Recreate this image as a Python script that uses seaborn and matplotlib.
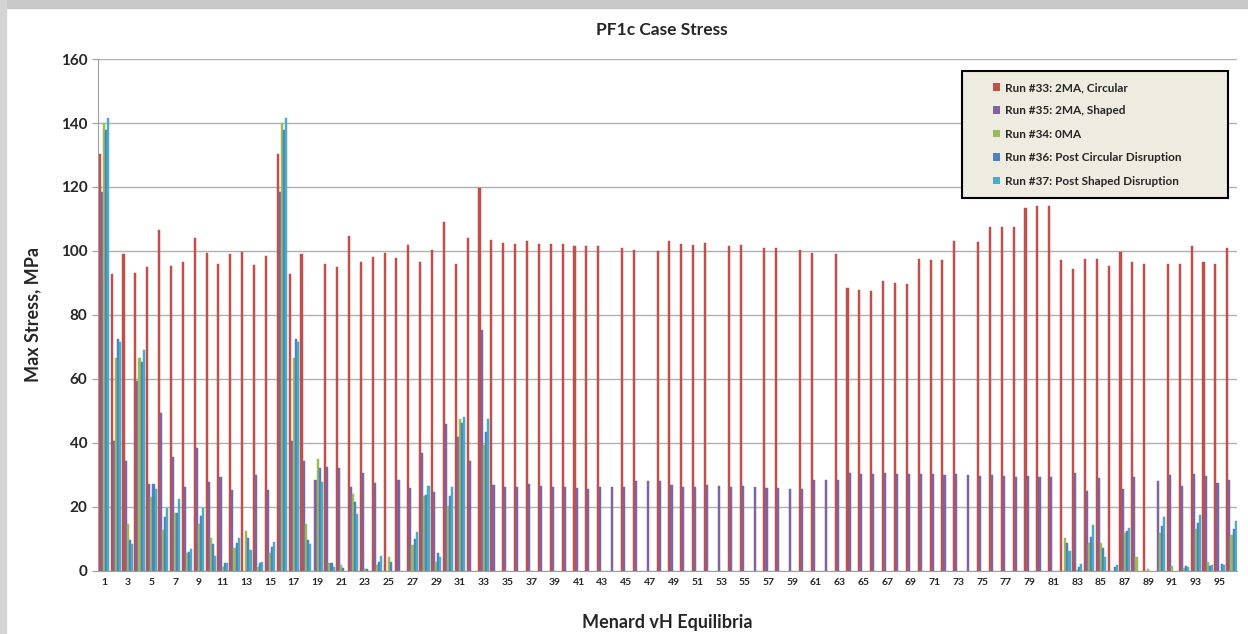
import numpy as np
import pandas as pd
import matplotlib
matplotlib.use('Agg')
import matplotlib.pyplot as plt
import seaborn as sns
from matplotlib.patches import Rectangle, Patch

sns.set_style("white")
plt.rcParams['font.family'] = ['Lato', 'DejaVu Sans']
plt.rcParams['font.weight'] = 'bold'

# Equilibrium numbers 1..96
equilibria = list(range(1, 97))

run_labels = ['Run #33: 2MA, Circular', 'Run #35: 2MA, Shaped', 'Run #34: 0MA',
              'Run #36: Post Circular Disruption', 'Run #37: Post Shaped Disruption']
run_colors = ['#C0504D', '#8064A2', '#9BBB59', '#4F81BD', '#4BACC6']

# Max stress, MPa
run33 = [130.4, 92.7, 99.2, 93.0, 94.9, 106.5, 95.3, 96.6, 104.2, 99.4,
         95.8, 99.2, 99.7, 95.5, 98.4, 130.4, 92.7, 99.2, 0, 95.8,
         95.0, 104.7, 96.7, 98.0, 99.5, 97.8, 101.8, 96.7, 100.2, 108.9,
         96.0, 103.9, 119.8, 103.3, 102.5, 102.1, 103.0, 102.3, 102.1, 102.3,
         101.7, 101.5, 101.5, 0, 101.0, 100.2, 0, 99.9, 103.0, 102.1,
         101.8, 102.5, 0, 101.5, 102.0, 0, 101.0, 101.0, 0, 100.2,
         99.5, 0, 99.2, 88.4, 87.7, 87.6, 90.5, 90.0, 89.8, 97.4,
         97.1, 97.1, 103.0, 0, 102.8, 107.5, 107.5, 107.5, 113.5, 114.0,
         114.0, 97.1, 94.2, 97.6, 97.6, 95.3, 99.7, 96.4, 96.0, 0,
         96.0, 96.0, 101.5, 96.6, 96.0, 101.0]
run35 = [118.4, 40.6, 34.4, 59.3, 27.1, 49.2, 35.6, 26.3, 38.5, 27.8,
         29.4, 25.2, 0, 29.9, 25.2, 118.4, 40.6, 34.4, 28.5, 32.3,
         32.0, 26.3, 30.6, 27.5, 0, 28.3, 25.9, 36.7, 24.7, 46.0,
         41.7, 34.4, 75.4, 26.8, 26.3, 26.3, 27.0, 26.6, 26.3, 26.3,
         25.9, 25.7, 26.3, 26.3, 26.3, 28.1, 28.1, 28.1, 26.8, 26.3,
         26.3, 26.8, 26.6, 26.3, 26.6, 26.3, 26.0, 25.9, 25.7, 25.7,
         28.3, 28.3, 28.3, 30.6, 30.4, 30.2, 30.6, 30.4, 30.2, 30.4,
         30.2, 29.9, 30.2, 29.9, 29.6, 29.9, 29.6, 29.4, 29.6, 29.4,
         29.2, 0, 30.6, 25.0, 28.9, 0, 25.7, 29.4, 0, 28.1,
         29.9, 26.6, 30.2, 29.6, 27.3, 28.5]
run34 = [140.0, 66.4, 14.6, 66.4, 22.9, 12.7, 17.9, 5.4, 14.6, 10.1,
         1.2, 7.0, 12.4, 1.2, 5.6, 140.0, 66.4, 14.6, 34.8, 2.3,
         1.8, 24.0, 0.4, 1.8, 4.4, 0, 8.0, 23.3, 2.8, 20.2,
         47.6, 0, 39.3, 0, 0, 0, 0, 0, 0, 0,
         0, 0, 0, 0, 0, 0, 0, 0, 0, 0,
         0, 0, 0, 0, 0, 0, 0, 0, 0, 0,
         0, 0, 0, 0, 0, 0, 0, 0, 0, 0,
         0, 0, 0, 0, 0, 0, 0, 0, 0, 0,
         0, 10.1, 0.2, 8.8, 8.8, 0, 11.7, 4.4, 0.5, 11.9,
         1.6, 0.7, 12.9, 2.8, 0, 11.1]
run36 = [137.9, 72.4, 9.6, 65.3, 27.1, 16.7, 17.9, 6.0, 17.1, 8.3,
         2.5, 8.8, 10.3, 2.3, 7.3, 137.9, 72.4, 9.6, 32.0, 2.5,
         0.7, 21.6, 0.4, 2.8, 2.8, 0, 9.8, 23.6, 5.6, 23.3,
         46.3, 0, 43.4, 0, 0, 0, 0, 0, 0, 0,
         0, 0, 0, 0, 0, 0, 0, 0, 0, 0,
         0, 0, 0, 0, 0, 0, 0, 0, 0, 0,
         0, 0, 0, 0, 0, 0, 0, 0, 0, 0,
         0, 0, 0, 0, 0, 0, 0, 0, 0, 0,
         0, 8.6, 1.2, 10.4, 7.0, 1.3, 12.5, 0, 0, 14.0,
         0, 1.5, 15.0, 1.5, 2.1, 13.2]
run37 = [141.7, 71.4, 8.3, 69.0, 25.7, 19.5, 22.3, 6.8, 19.5, 4.6,
         2.5, 10.1, 6.5, 2.8, 9.0, 141.7, 71.4, 8.3, 27.8, 1.2,
         0, 17.7, 0, 4.6, 0, 0, 12.0, 26.6, 4.4, 26.3,
         48.1, 0, 47.6, 0, 0, 0, 0, 0, 0, 0,
         0, 0, 0, 0, 0, 0, 0, 0, 0, 0,
         0, 0, 0, 0, 0, 0, 0, 0, 0, 0,
         0, 0, 0, 0, 0, 0, 0, 0, 0, 0,
         0, 0, 0, 0, 0, 0, 0, 0, 0, 0,
         0, 6.3, 2.0, 14.3, 4.4, 1.7, 13.3, 0, 0, 16.9,
         0, 1.2, 17.4, 1.8, 1.8, 15.6]

series = [run33, run35, run34, run36, run37]

# long format for seaborn
rows = []
for lab, vals in zip(run_labels, series):
    for eq, v in zip(equilibria, vals):
        rows.append({'Equilibrium': eq, 'Run': lab, 'Stress': v})
df = pd.DataFrame(rows)

fig = plt.figure(figsize=(12.48, 6.34), dpi=100)
ax = fig.add_axes([0.0785, 0.0998, 0.913, 0.807])

sns.barplot(data=df, x='Equilibrium', y='Stress', hue='Run', hue_order=run_labels,
            palette=run_colors, width=0.88, linewidth=0, saturation=1,
            errorbar=None, ax=ax, legend=False)

# thin bars: give each a same-colour edge so none vanish, hide empty ones
for cont in ax.containers:
    for p in cont:
        if p.get_height() <= 0:
            p.set_visible(False)
        else:
            p.set_edgecolor(p.get_facecolor())
            p.set_linewidth(0.35)

ax.set_ylim(0, 160)
ax.set_yticks(range(0, 161, 20))
ax.yaxis.grid(True, color='#b0b0b0', linewidth=1)
ax.set_axisbelow(True)
for s in ['top', 'right']:
    ax.spines[s].set_visible(False)
ax.spines['left'].set_color('#a0a0a0')
ax.spines['bottom'].set_color('#a0a0a0')

ax.set_xticks(range(0, 96, 2))
ax.set_xticklabels([str(e) for e in equilibria[::2]], fontsize=7.5, fontweight='bold')
ax.tick_params(axis='x', length=0, pad=5)
ax.tick_params(axis='y', labelsize=11, length=4, color='#a0a0a0', left=True)
for t in ax.get_yticklabels():
    t.set_fontweight('bold')

ax.set_xlabel('Menard vH Equilibria', fontsize=13, fontweight='bold', labelpad=20)
ax.set_ylabel('Max Stress, MPa', fontsize=13, fontweight='bold', labelpad=14)
fig.text(0.53, 0.952, 'PF1c Case Stress', ha='center', va='center', fontsize=12.5,
         fontweight='bold')

# legend box drawn by hand so its padding matches the original
ax_w = 0.913 * 1248
ax_h = 0.807 * 634
ax.add_patch(Rectangle(((962 - 98) / ax_w, (570.7 - 198) / ax_h),
                       (1228 - 962) / ax_w, (198 - 71) / ax_h,
                       transform=ax.transAxes, facecolor='#EEECE1',
                       edgecolor='black', linewidth=1.5, zorder=5, clip_on=False))
handles = [Patch(facecolor=c, edgecolor='none') for c in run_colors]
leg = ax.legend(handles, run_labels, loc='upper left',
                bbox_to_anchor=((987 - 98) / ax_w, (570.7 - 76) / ax_h),
                frameon=False, labelspacing=1.05, handlelength=0.6,
                handleheight=0.6, handletextpad=0.4, borderpad=0,
                prop={'weight': 'bold', 'size': 8.5})
leg.set_zorder(6)

# chart frame shadow
fig.patches.append(Rectangle((0, 1 - 8 / 634), 1, 8 / 634, transform=fig.transFigure,
                             color='#c8c8c8', zorder=-1))
fig.patches.append(Rectangle((0, 0), 6 / 1248, 1, transform=fig.transFigure,
                             color='#d4d4d4', zorder=-1))

fig.savefig('out.png', dpi=100)
